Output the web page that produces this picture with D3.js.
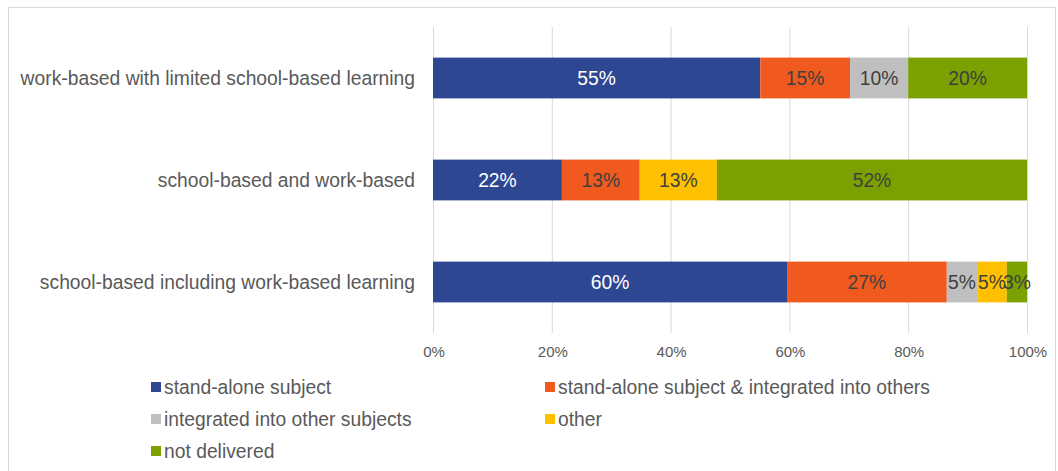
<!DOCTYPE html>
<html>
<head>
<meta charset="utf-8">
<script src="https://cdn.jsdelivr.net/npm/d3@7"></script>
<style>
  body { margin: 0; background: #fff; }
  text { font-family: "Liberation Sans", Arial, sans-serif; }
</style>
</head>
<body>
<script>
// chart data
var categories = [
  'work-based with limited school-based learning',
  'school-based and work-based',
  'school-based including work-based learning'
];
var seriesNames = [
  'stand-alone subject',
  'stand-alone subject & integrated into others',
  'integrated into other subjects',
  'other',
  'not delivered'
];
var standAlone = [55.1, 21.7, 59.6];
var standAloneIntegrated = [15.1, 13.1, 26.9];
var integratedOther = [9.8, 0, 5.1];
var other = [0, 13.0, 5.0];
var notDelivered = [20.0, 52.2, 3.4];
var tickValues = [0, 20, 40, 60, 80, 100];

var colors = ['#2E4793', '#F05A1E', '#BFBFBF', '#FFC000', '#7AA100'];
var labelColors = ['#ffffff', '#404040', '#404040', '#404040', '#404040'];

var width = 1058, height = 471;
var fontSize = 19.3;

var svg = d3.select('body').append('svg')
  .attr('width', width)
  .attr('height', height);

// outer chart frame
svg.append('rect')
  .attr('x', 8.5).attr('y', 7.5)
  .attr('width', 1047).attr('height', 470)
  .attr('fill', 'none')
  .attr('stroke', '#d9d9d9');

var x = d3.scaleLinear().domain([0, 100]).range([433, 1027]);
var y = d3.scaleBand().domain(categories).range([27, 333]).paddingInner(0.6).paddingOuter(0.3);

// build rows for the stack
var rows = categories.map(function(c, i) {
  return {
    cat: c,
    s0: standAlone[i], s1: standAloneIntegrated[i], s2: integratedOther[i],
    s3: other[i], s4: notDelivered[i]
  };
});
var stack = d3.stack().keys(['s0', 's1', 's2', 's3', 's4']);
var layers = stack(rows);

// gridlines
svg.append('g').selectAll('line')
  .data(tickValues)
  .enter().append('line')
  .attr('x1', function(d) { return x(d) + 0.5; })
  .attr('x2', function(d) { return x(d) + 0.5; })
  .attr('y1', 27).attr('y2', 333)
  .attr('stroke', '#d9d9d9');

// bars
var layer = svg.append('g').selectAll('g')
  .data(layers)
  .enter().append('g')
  .attr('fill', function(d, i) { return colors[i]; });

layer.selectAll('rect')
  .data(function(d) { return d; })
  .enter().append('rect')
  .attr('x', function(d) { return x(d[0]); })
  .attr('width', function(d) { return x(d[1]) - x(d[0]); })
  .attr('y', function(d) { return y(d.data.cat); })
  .attr('height', y.bandwidth());

// data labels
layers.forEach(function(l, i) {
  svg.append('g').selectAll('text')
    .data(l.filter(function(d) { return d[1] - d[0] > 0; }))
    .enter().append('text')
    .attr('x', function(d) { return (x(d[0]) + x(d[1])) / 2; })
    .attr('y', function(d) { return y(d.data.cat) + y.bandwidth() / 2; })
    .attr('dy', '0.35em')
    .attr('text-anchor', 'middle')
    .attr('font-size', fontSize)
    .attr('fill', labelColors[i])
    .text(function(d) { return Math.round(d[1] - d[0]) + '%'; });
});

// category labels
svg.append('g').selectAll('text')
  .data(categories)
  .enter().append('text')
  .attr('x', 415)
  .attr('y', function(d) { return y(d) + y.bandwidth() / 2; })
  .attr('dy', '0.35em')
  .attr('text-anchor', 'end')
  .attr('font-size', fontSize)
  .attr('fill', '#595959')
  .text(function(d) { return d; });

// x axis
var xAxis = d3.axisBottom(x)
  .tickValues(tickValues)
  .tickSize(0)
  .tickPadding(13)
  .tickFormat(function(d) { return d + '%'; });

var ax = svg.append('g')
  .attr('transform', 'translate(0.5,333)')
  .call(xAxis);
ax.select('.domain').remove();
ax.selectAll('text')
  .attr('font-size', 15)
  .attr('font-family', '"Liberation Sans", Arial, sans-serif')
  .attr('fill', '#595959');

// legend
var legendPos = [[151, 387], [545, 387], [151, 419], [545, 419], [151, 451]];
var legend = svg.append('g').selectAll('g')
  .data(seriesNames)
  .enter().append('g')
  .attr('transform', function(d, i) { return 'translate(' + legendPos[i][0] + ',' + legendPos[i][1] + ')'; });

legend.append('rect')
  .attr('x', 0).attr('y', -5)
  .attr('width', 10).attr('height', 10)
  .attr('fill', function(d, i) { return colors[i]; });

legend.append('text')
  .attr('x', 13)
  .attr('dy', '0.35em')
  .attr('font-size', fontSize)
  .attr('fill', '#595959')
  .text(function(d) { return d; });
</script>
</body>
</html>
